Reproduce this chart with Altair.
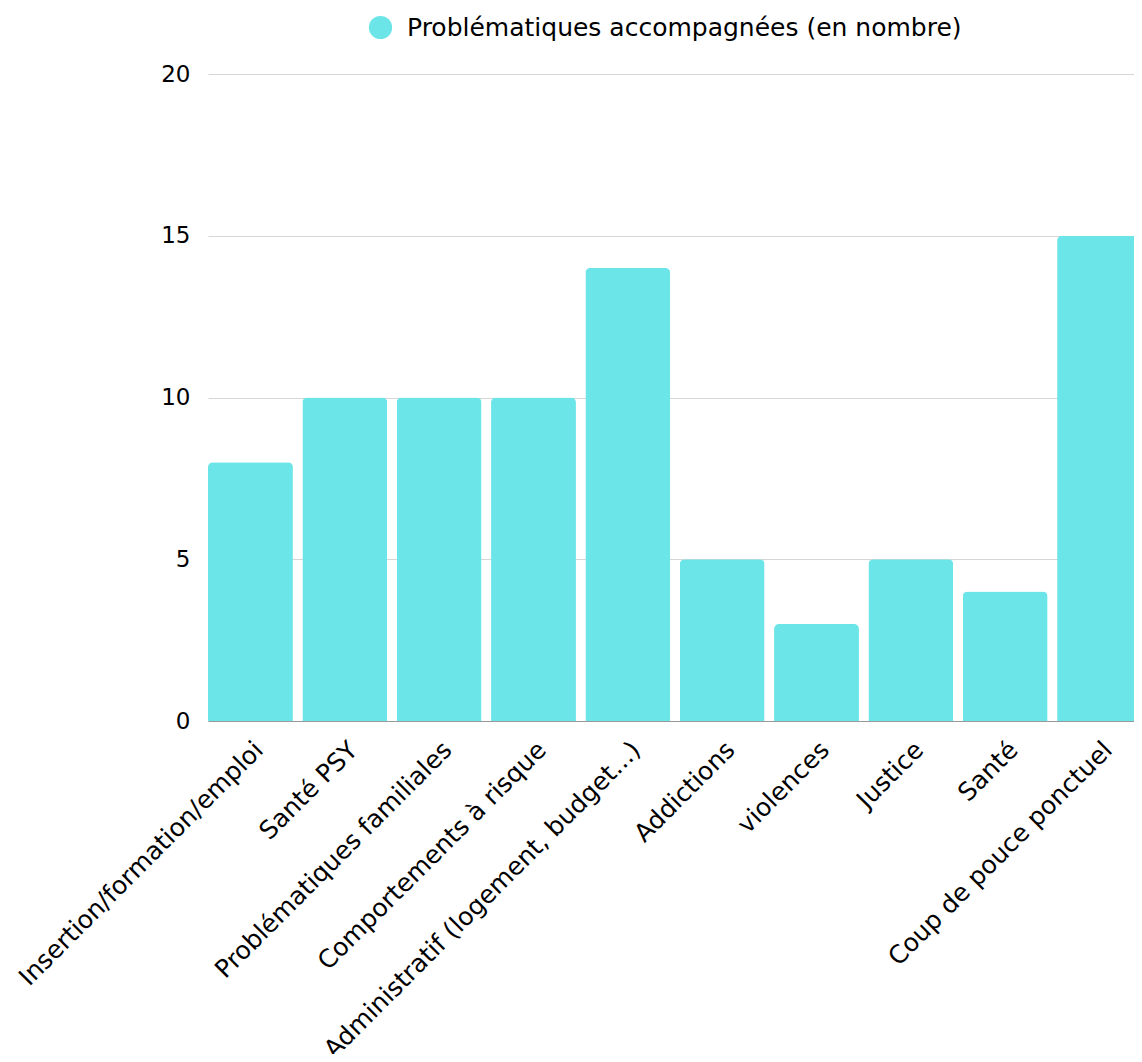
import altair as alt
import pandas as pd

categories = [
    "Insertion/formation/emploi",
    "Santé PSY",
    "Problématiques familiales",
    "Comportements à risque",
    "Administratif (logement, budget...)",
    "Addictions",
    "violences",
    "Justice",
    "Santé",
    "Coup de pouce ponctuel",
]
values = [8, 10, 10, 10, 14, 5, 3, 5, 4, 15]
series_name = "Problématiques accompagnées (en nombre)"
y_ticks = [0, 5, 10, 15, 20]

df = pd.DataFrame({"cat": categories, "val": values, "series": [series_name] * len(categories)})

FONT = "DejaVu Sans"

chart = (
    alt.Chart(df)
    .mark_bar(color="#6ce5e8", cornerRadiusTopLeft=5, cornerRadiusTopRight=5)
    .encode(
        x=alt.X(
            "cat:N",
            sort=categories,
            title=None,
            scale=alt.Scale(paddingInner=0.1, paddingOuter=0, range=[0, 934]),
            axis=alt.Axis(
                labelAngle=-45,
                labelFontSize=25,
                labelFont=FONT,
                labelColor="#000000",
                ticks=False,
                domain=True,
                domainColor="#999999",
                labelPadding=16,
                labelLimit=800,
            ),
        ),
        y=alt.Y(
            "val:Q",
            title=None,
            scale=alt.Scale(domain=[0, 20]),
            axis=alt.Axis(
                values=y_ticks,
                labelFontSize=23,
                labelFont=FONT,
                labelColor="#000000",
                ticks=False,
                domain=False,
                gridColor="#d6d6d6",
                labelPadding=18,
            ),
        ),
        color=alt.Color(
            "series:N",
            scale=alt.Scale(range=["#6ce5e8"]),
            legend=alt.Legend(
                title=None,
                orient="none",
                legendX=160,
                legendY=-59,
                padding=0,
                symbolType="circle",
                symbolSize=540,
                symbolStrokeWidth=0,
                labelFontSize=25,
                labelFont=FONT,
                labelColor="#000000",
                labelLimit=800,
                labelOffset=14,
            ),
        ),
    )
    .properties(
        width=926,
        height=647,
        autosize=alt.AutoSizeParams(type="none"),
        padding={"left": 200, "top": 66, "right": 0, "bottom": 333},
    )
    .configure_view(stroke=None)
)

chart.save("out.html", embed_options={"renderer": "svg", "actions": False})
